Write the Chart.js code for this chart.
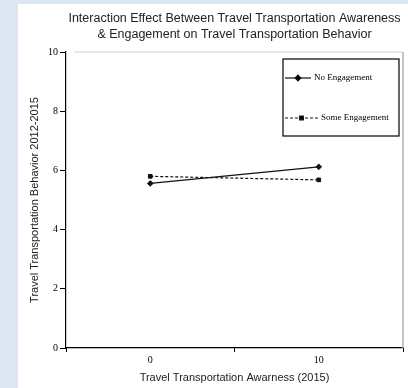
<!DOCTYPE html>
<html>
<head>
<meta charset="utf-8">
<script src="https://cdn.jsdelivr.net/npm/chart.js@4.4.1/dist/chart.umd.min.js"></script>
<style>
    body { margin: 0; background: #dce7f3; }
    #caja { position: absolute; left: 18px; top: 4px; width: 390px; height: 384px; background: #ffffff; }
</style>
</head>
<body>
<div id="caja"><canvas id="graficoInteraccion" width="390" height="384"></canvas></div>
<script>
// datos
var categorias = ['0', '10']
var sinCompromiso = [5.56, 6.12]
var algoCompromiso = [5.80, 5.68]
var ticksY = [0, 2, 4, 6, 8, 10]
var titulo = ['Interaction Effect Between Travel Transportation Awareness', '& Engagement on Travel Transportation Behavior']

var serif = '"Liberation Serif", "Times New Roman", serif'
var sans = '"Liberation Sans", Arial, sans-serif'

// titulo centrado sobre el area del grafico
var pluginTitulo = {
    id: 'pluginTitulo',
    afterDraw: function (chart) {
        var ctx = chart.ctx
        var area = chart.chartArea
        var cx = (area.left + area.right) / 2
        ctx.save()
        ctx.fillStyle = '#222'
        ctx.font = '12.5px ' + sans
        ctx.textAlign = 'center'
        ctx.textBaseline = 'middle'
        ctx.fillText(titulo[0], cx, 15)
        ctx.fillText(titulo[1], cx, 31)
        ctx.restore()
    }
}

// marco gris arriba y a la derecha
var pluginMarco = {
    id: 'pluginMarco',
    beforeDatasetsDraw: function (chart) {
        var ctx = chart.ctx
        var area = chart.chartArea
        ctx.save()
        ctx.strokeStyle = '#d2d2d2'
        ctx.lineWidth = 1
        ctx.beginPath()
        ctx.moveTo(area.left + 8, area.top)
        ctx.lineTo(area.right, area.top)
        ctx.stroke()
        ctx.strokeStyle = '#b0b0b0'
        ctx.lineWidth = 1.5
        ctx.beginPath()
        ctx.moveTo(area.right, area.top)
        ctx.lineTo(area.right, area.bottom)
        ctx.stroke()
        ctx.restore()
    }
}

// leyenda dentro del grafico, con caja negra
var pluginLeyenda = {
    id: 'pluginLeyenda',
    afterDraw: function (chart) {
        var ctx = chart.ctx
        var area = chart.chartArea
        var x0 = area.right - 120
        var y0 = area.top + 7
        var w = 116
        var h = 77
        ctx.save()
        ctx.strokeStyle = '#000'
        ctx.lineWidth = 1.2
        ctx.strokeRect(x0, y0, w, h)

        var filas = [y0 + 19, y0 + 59]
        for (var i = 0; i < chart.data.datasets.length; i++) {
            var ds = chart.data.datasets[i]
            var y = filas[i]
            var largo = i == 0 ? 26 : 33
            ctx.strokeStyle = ds.borderColor
            ctx.lineWidth = ds.borderWidth
            ctx.setLineDash(ds.borderDash || [])
            ctx.beginPath()
            ctx.moveTo(x0 + 2, y)
            ctx.lineTo(x0 + 2 + largo, y)
            ctx.stroke()
            ctx.setLineDash([])
            Chart.helpers.drawPoint(ctx, {
                pointStyle: ds.pointStyle,
                radius: ds.pointRadius,
                borderWidth: 1
            }, x0 + 2 + largo / 2, y)
            ctx.fillStyle = '#000'
            ctx.font = '9px ' + serif
            ctx.textAlign = 'left'
            ctx.textBaseline = 'middle'
            ctx.fillText(ds.label, x0 + 5 + largo, y)
        }
        ctx.restore()
    }
}

var dados = {
    labels: categorias,
    datasets: [{
        label: 'No Engagement',
        data: sinCompromiso,
        borderColor: '#111',
        backgroundColor: '#111',
        borderWidth: 1.2,
        pointStyle: 'rectRot',
        pointRadius: 2.8,
        pointBorderWidth: 1,
        fill: false,
        tension: 0
    }, {
        label: 'Some Engagement',
        data: algoCompromiso,
        borderColor: '#111',
        backgroundColor: '#111',
        borderWidth: 1.2,
        borderDash: [3, 2],
        pointStyle: 'rect',
        pointRadius: 2.6,
        pointBorderWidth: 1,
        fill: false,
        tension: 0
    }]
}

const config = {
    type: 'line',
    data: dados,
    options: {
        responsive: false,
        animation: false,
        devicePixelRatio: 1,
        layout: { padding: { top: 48, right: 5, left: 0, bottom: 0 } },
        plugins: {
            legend: { display: false },
            title: { display: false },
            tooltip: { enabled: false }
        },
        scales: {
            x: {
                type: 'category',
                offset: true,
                afterFit: function (scale) { scale.height = 40 },
                grid: { drawOnChartArea: false, offset: true, color: '#000', tickLength: 4 },
                border: { color: '#000', width: 1.2 },
                ticks: { color: '#000', padding: 2, font: { family: serif, size: 10 } },
                title: { display: true, text: 'Travel Transportation Awarness (2015)', color: '#222', padding: 3, font: { family: sans, size: 11 } }
            },
            y: {
                min: 0,
                max: 10,
                afterFit: function (scale) { scale.width = 48 },
                afterBuildTicks: function (scale) {
                    scale.ticks = ticksY.map(function (v) { return { value: v } })
                },
                grid: { drawOnChartArea: false, color: '#000', tickLength: 6 },
                border: { color: '#000', width: 1.2 },
                ticks: { color: '#000', padding: 2, font: { family: serif, size: 10 } },
                title: { display: true, text: 'Travel Transportation Behavior 2012-2015', color: '#222', padding: 10, font: { family: sans, size: 11 } }
            }
        }
    },
    plugins: [pluginMarco, pluginTitulo, pluginLeyenda]
}

var myChart = new Chart(document.getElementById('graficoInteraccion'), config)
</script>
</body>
</html>
